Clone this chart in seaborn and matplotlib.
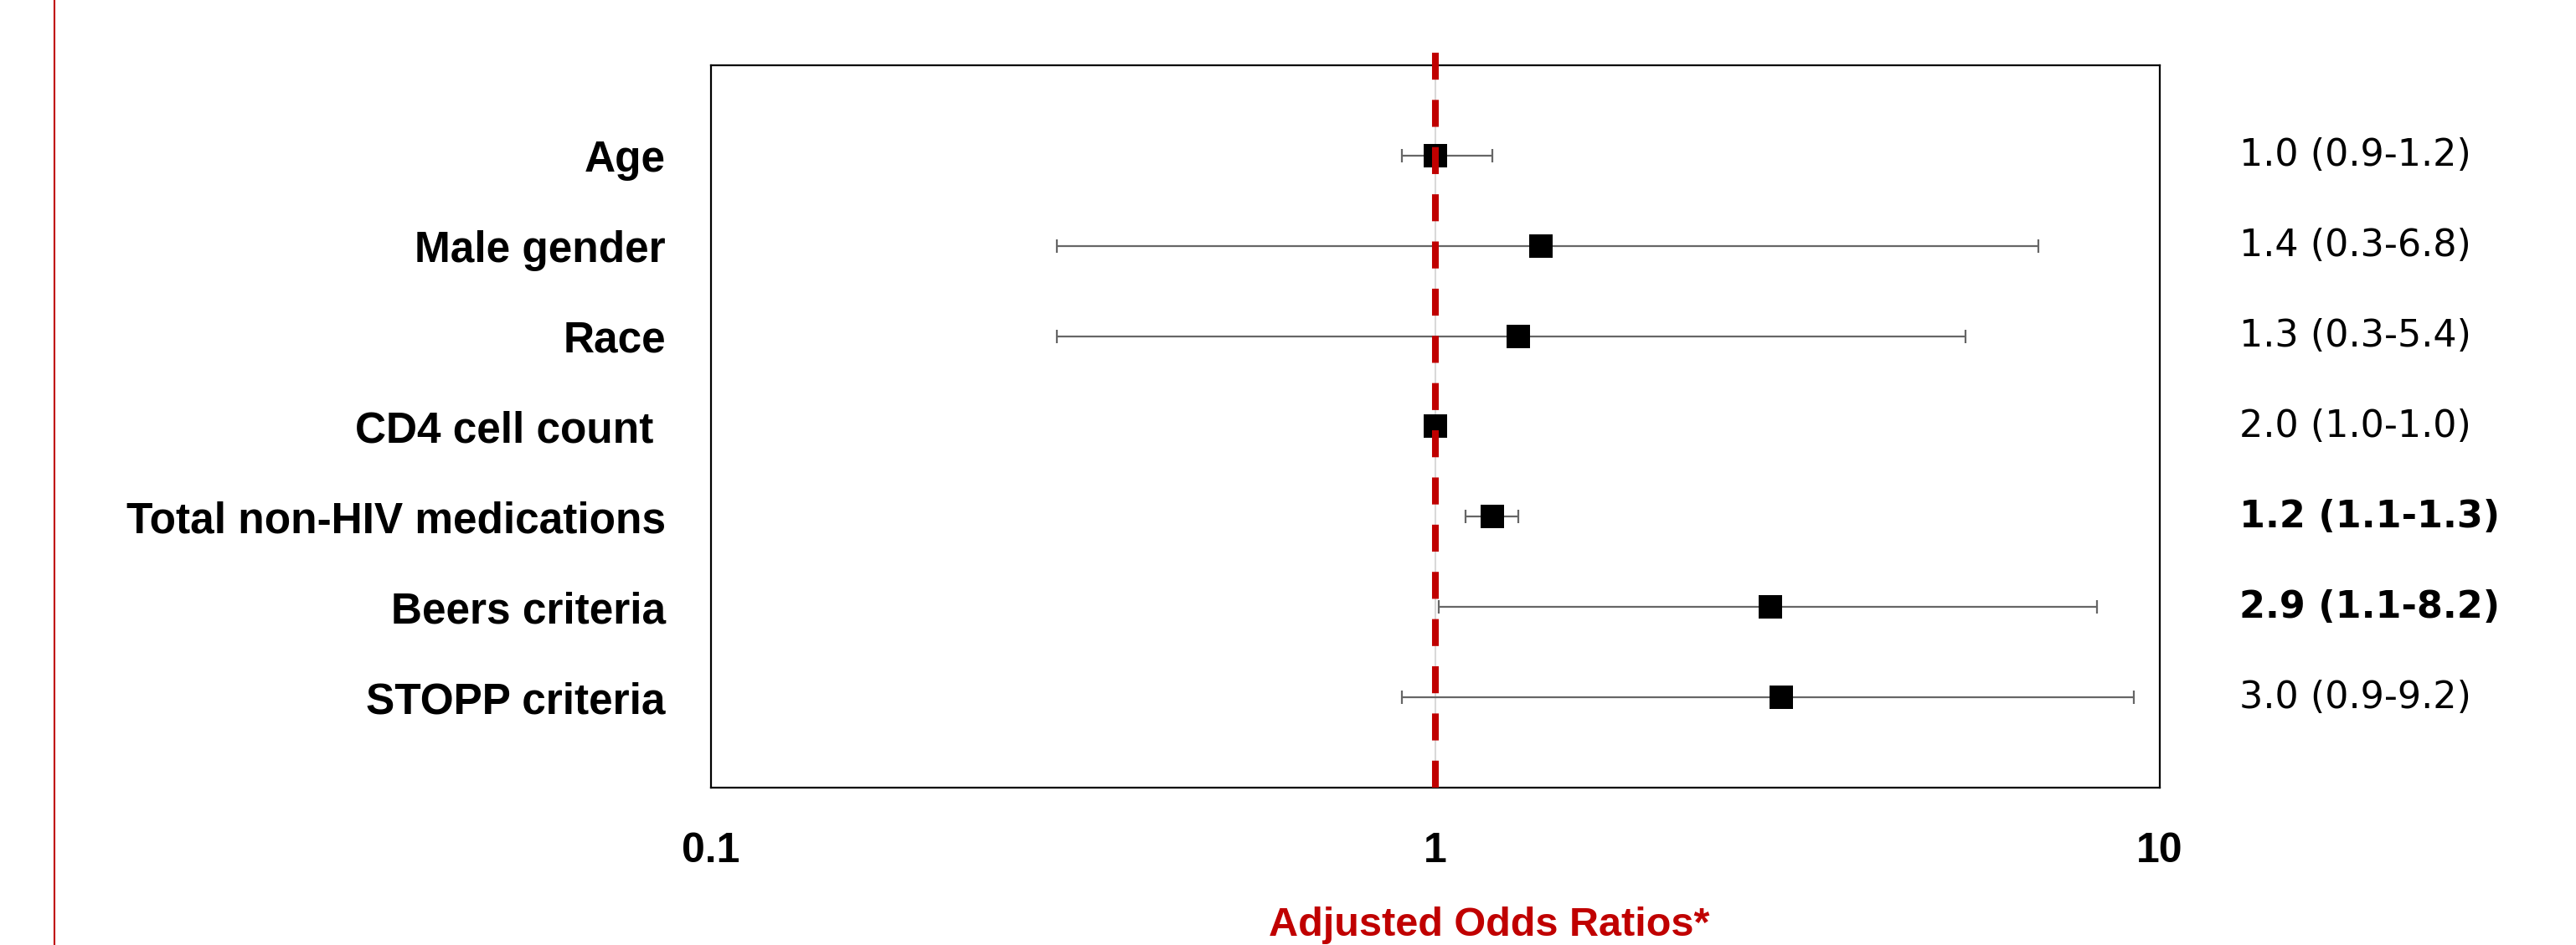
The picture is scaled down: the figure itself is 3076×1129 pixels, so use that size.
import numpy as np
import matplotlib
matplotlib.use("Agg")
import matplotlib.pyplot as plt
from matplotlib.lines import Line2D
import seaborn as sns
import pandas as pd

# 数据
variables = ["Age", "Male gender", "Race", "CD4 cell count ", "Total non-HIV medications",
             "Beers criteria", "STOPP criteria"]
odds_ratio = [1.0, 1.4, 1.3, 1.0, 1.2, 2.9, 3.0]
ci_low = [0.9, 0.3, 0.3, 1.0, 1.1, 1.01, 0.9]
ci_high = [1.2, 6.8, 5.4, 1.0, 1.3, 8.2, 9.2]
or_labels = ["1.0 (0.9-1.2)", "1.4 (0.3-6.8)", "1.3 (0.3-5.4)", "2.0 (1.0-1.0)",
             "1.2 (1.1-1.3)", "2.9 (1.1-8.2)", "3.0 (0.9-9.2)"]
significant = [False, False, False, False, True, True, False]
x_ticks = [0.1, 1, 10]

RED = "#C00000"

sns.set_style("white")
bold_font = ["Liberation Sans", "DejaVu Sans"]
plt.rcParams["font.family"] = ["DejaVu Sans"]
plt.rcParams["text.color"] = "black"
plt.rcParams["xtick.color"] = "black"
plt.rcParams["ytick.color"] = "black"

df = pd.DataFrame({"var": variables, "or": odds_ratio, "lo": ci_low, "hi": ci_high,
                   "pos": np.arange(len(variables))})

fig = plt.figure(figsize=(30.76, 11.29), dpi=100)
ax = fig.add_axes([0.276, 0.1665, 0.5624, 0.7645])
ax.set_xscale("log")
ax.set_xlim(0.1, 10)
ax.set_ylim(len(variables), -1)

# 置信区间
ax.errorbar(df["or"], df["pos"], xerr=[df["or"] - df["lo"], df["hi"] - df["or"]],
            fmt="none", ecolor="#666666", elinewidth=1.6, capsize=6, capthick=1.6, zorder=2)

# x=1 处的浅灰色轴线和红色虚线
ax.axvline(1, color="#D9D9D9", lw=1.5, zorder=1)
ax.plot([1, 1], [len(variables), -1.31], color=RED, lw=5.8, dashes=(4, 3),
        clip_on=False, zorder=4)

sns.scatterplot(data=df, x="or", y="pos", marker="s", s=420, color="black",
                edgecolor="black", linewidth=0, ax=ax, zorder=3)

ax.set_yticks(df["pos"])
ax.set_yticklabels(variables, fontsize=37, fontweight="bold", family=bold_font, color="black")
ax.set_xticks(x_ticks)
ax.set_xticklabels([str(t) for t in x_ticks], fontsize=36, fontweight="bold",
                   family=bold_font, color="black")
ax.minorticks_off()
ax.tick_params(axis="both", length=0)
ax.tick_params(axis="x", pad=38)
ax.tick_params(axis="y", pad=39)
ax.set_xlabel("Adjusted Odds Ratios*", fontsize=35, fontweight="bold", color=RED,
              family=bold_font)
ax.xaxis.set_label_coords(0.537, -0.165)
ax.set_ylabel("")

for sp in ax.spines.values():
    sp.set_color("black")
    sp.set_linewidth(1.6)

# 右侧文字
for y, txt, sig in zip(df["pos"], or_labels, significant):
    ax.text(1.055, y, txt, transform=ax.get_yaxis_transform(), fontsize=32,
            fontweight="bold" if sig else "normal", va="center", ha="left", color="black")

# 左侧红色竖线
fig.add_artist(Line2D([0.0212, 0.0212], [0, 1], color=RED, lw=1.5, transform=fig.transFigure))

fig.savefig("out.png", dpi=100)
